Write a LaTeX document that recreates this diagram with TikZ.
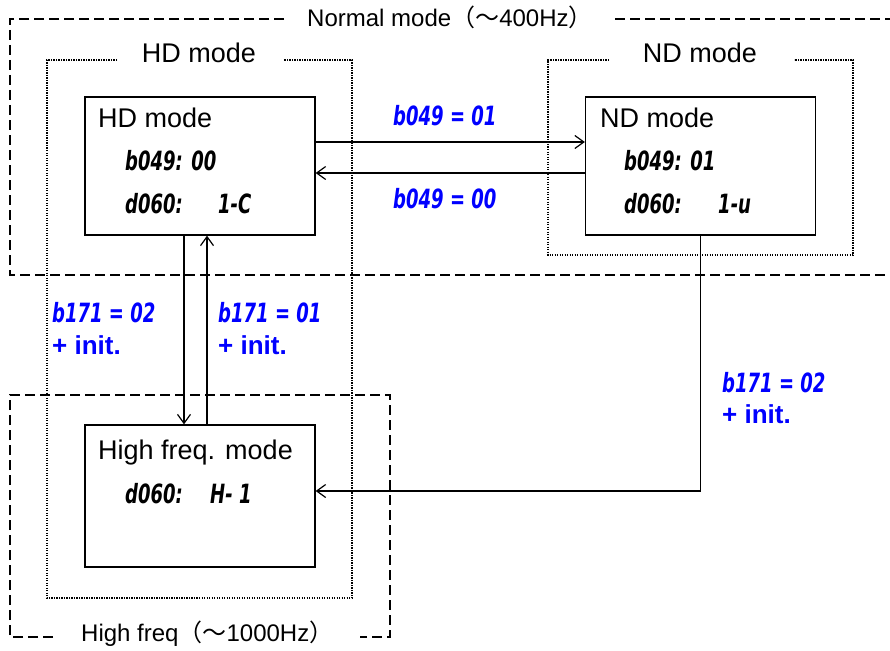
\documentclass[tikz,border=0pt]{standalone}
\usepackage{fontspec}
\setmainfont{Liberation Sans}
\newfontfamily\cjk{Noto Sans CJK JP}
\newfontfamily\segfont[FakeStretch=0.68]{DejaVu Sans}
\usetikzlibrary{arrows.meta}
\definecolor{lblblue}{RGB}{0,0,255}
\begin{document}
\begin{tikzpicture}[x=1pt,y=-1pt,
  modebox/.style={draw, line width=1.3pt, minimum width=230pt, minimum height=138pt, inner sep=0pt},
  grpline/.style={line width=1.6pt, dash pattern=on 1.4pt off 1.1pt},
  outline/.style={line width=1.2pt, dash pattern=on 10pt off 5pt},
  ttl/.style={anchor=base west, inner sep=0pt, font=\fontsize{27}{31}\selectfont},
  grplbl/.style={anchor=base, inner sep=0pt, font=\fontsize{27}{31}\selectfont},
  frmlbl/.style={anchor=base west, inner sep=0pt, font=\fontsize{24}{28}\selectfont},
  segtxt/.style={anchor=base west, inner sep=0pt, font=\segfont\bfseries\itshape\fontsize{26.5}{29}\selectfont},
  seglbl/.style={segtxt, text=lblblue},
  initlbl/.style={anchor=base west, inner sep=0pt, text=lblblue, font=\bfseries\fontsize{26}{29}\selectfont},
  arr/.style={line width=1.2pt, -{Straight Barb[length=9pt,width=13pt,line width=1.2pt]}}
]
\useasboundingbox (0,0) rectangle (890,650);

% outer frames
\draw[outline] (284,19) -| (10,275) -- (893,275);
\draw[outline] (615,19) -- (893,19);
\node[frmlbl] (normlbl) at (307,27) {Normal mode{\cjk（～}400Hz{\cjk）}};

\draw[outline] (53,637) -| (10,395) -| (390,637) -- (360,637);
\node[frmlbl] (hflbl) at (81,641) {High freq{\cjk（～}1000Hz{\cjk）}};

% group frames
\draw[grpline] (117,60) -| (47,598) -| (352,60) -- (284,60);
\node[grplbl] (hdgrp) at (199,63) {HD mode};
\draw[grpline] (609,60) -| (548,255) -| (853,60) -- (794,60);
\node[grplbl] (ndgrp) at (700,63) {ND mode};

% mode boxes
\node[modebox] (hd) at (200,166) {};
\node[modebox] (nd) at (700.5,166) {};
\node[modebox, minimum height=142pt] (hf) at (200,496) {};

\node[ttl] (hdt) at (98,127) {HD mode};
\node[segtxt] (hdb) at (125,170) {b049: 00};
\node[segtxt] (hdd) at (125,213) {d060:};
\node[segtxt] (hdv) at (218,213) {1-C};

\node[ttl] (ndt) at (600,127) {ND mode};
\node[segtxt] (ndb) at (624,170) {b049: 01};
\node[segtxt] (ndd) at (624,213) {d060:};
\node[segtxt] (ndv) at (718,213) {1-u};

\node[ttl] (hft) at (98,459) {High freq. mode};
\node[segtxt] (hfd) at (125,503) {d060:};
\node[segtxt] (hfv) at (210,503) {H- 1};

% connectors
\draw[arr] ([yshift=24pt]hd.east) -- ([yshift=24pt]nd.west);
\draw[arr] ([yshift=-7pt]nd.west) -- ([yshift=-7pt]hd.east);
\draw[arr] ([xshift=-16pt]hd.south) -- ([xshift=-16pt]hf.north);
\draw[arr] ([xshift=7pt]hf.north) -- ([xshift=7pt]hd.south);
\draw[arr] (nd.south) |- ([yshift=5pt]hf.east);

% labels
\node[seglbl] (l1) at (393,125) {b049 = 01};
\node[seglbl] (l2) at (393,208) {b049 = 00};
\node[seglbl] (l3) at (52,322) {b171 = 02};
\node[initlbl] (l3i) at (52,354) {+ init.};
\node[seglbl] (l4) at (218,322) {b171 = 01};
\node[initlbl] (l4i) at (218,354) {+ init.};
\node[seglbl] (l5) at (722,392) {b171 = 02};
\node[initlbl] (l5i) at (722,423) {+ init.};
\end{tikzpicture}
\end{document}
